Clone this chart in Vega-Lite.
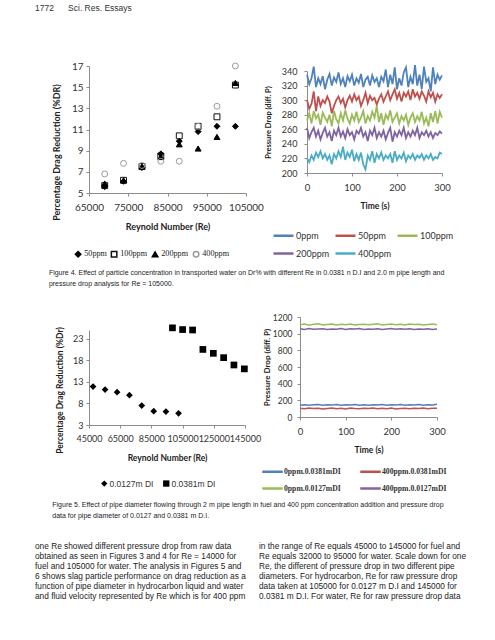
{
  "$schema": "https://vega.github.io/schema/vega-lite/v6.json",
  "background": "white",
  "padding": {"left": 35, "top": 3, "right": 0, "bottom": 0},
  "title": {"text": "1772\u00a0\u00a0\u00a0\u00a0\u00a0\u00a0Sci. Res. Essays", "anchor": "start", "font": "Liberation Sans", "fontSize": 8.5, "fontWeight": "normal", "color": "#333", "offset": 49},
  "datasets": {
    "fig4dr": [
      {"re": 69000, "dr": 5.6, "series": "50ppm"}, {"re": 73800, "dr": 6.1, "series": "50ppm"}, {"re": 78500, "dr": 7.4, "series": "50ppm"}, {"re": 83300, "dr": 8.7, "series": "50ppm"}, {"re": 88000, "dr": 9.9, "series": "50ppm"}, {"re": 92800, "dr": 10.8, "series": "50ppm"}, {"re": 97600, "dr": 11.3, "series": "50ppm"}, {"re": 102300, "dr": 11.3, "series": "50ppm"},
      {"re": 69000, "dr": 5.7, "series": "100ppm"}, {"re": 73800, "dr": 6.2, "series": "100ppm"}, {"re": 78500, "dr": 7.5, "series": "100ppm"}, {"re": 83300, "dr": 8.5, "series": "100ppm"}, {"re": 88000, "dr": 10.4, "series": "100ppm"}, {"re": 92800, "dr": 11.3, "series": "100ppm"}, {"re": 97600, "dr": 12.2, "series": "100ppm"}, {"re": 102300, "dr": 15.2, "series": "100ppm"},
      {"re": 69000, "dr": 5.9, "series": "200ppm"}, {"re": 73800, "dr": 6.2, "series": "200ppm"}, {"re": 78500, "dr": 7.5, "series": "200ppm"}, {"re": 83300, "dr": 8.4, "series": "200ppm"}, {"re": 88000, "dr": 9.6, "series": "200ppm"}, {"re": 92800, "dr": 9.2, "series": "200ppm"}, {"re": 97600, "dr": 10.3, "series": "200ppm"}, {"re": 102300, "dr": 15.4, "series": "200ppm"},
      {"re": 69000, "dr": 6.8, "series": "400ppm"}, {"re": 73800, "dr": 7.8, "series": "400ppm"}, {"re": 78500, "dr": 7.6, "series": "400ppm"}, {"re": 83300, "dr": 8.0, "series": "400ppm"}, {"re": 88000, "dr": 8.0, "series": "400ppm"}, {"re": 92800, "dr": 11.3, "series": "400ppm"}, {"re": 97600, "dr": 13.2, "series": "400ppm"}, {"re": 102300, "dr": 17.0, "series": "400ppm"}
    ],
    "fig4dp": [
      {"t": 0, "0ppm": 335, "50ppm": 300, "100ppm": 272, "200ppm": 262, "400ppm": 220},
      {"t": 5, "0ppm": 322, "50ppm": 288, "100ppm": 282, "200ppm": 248, "400ppm": 215},
      {"t": 10, "0ppm": 330, "50ppm": 295, "100ppm": 268, "200ppm": 256, "400ppm": 224},
      {"t": 15, "0ppm": 346, "50ppm": 312, "100ppm": 285, "200ppm": 262, "400ppm": 218},
      {"t": 20, "0ppm": 318, "50ppm": 285, "100ppm": 275, "200ppm": 250, "400ppm": 228},
      {"t": 25, "0ppm": 330, "50ppm": 305, "100ppm": 280, "200ppm": 258, "400ppm": 222},
      {"t": 30, "0ppm": 322, "50ppm": 292, "100ppm": 266, "200ppm": 246, "400ppm": 230},
      {"t": 35, "0ppm": 333, "50ppm": 300, "100ppm": 283, "200ppm": 255, "400ppm": 220},
      {"t": 40, "0ppm": 315, "50ppm": 296, "100ppm": 276, "200ppm": 262, "400ppm": 226},
      {"t": 45, "0ppm": 328, "50ppm": 305, "100ppm": 270, "200ppm": 250, "400ppm": 218},
      {"t": 50, "0ppm": 336, "50ppm": 298, "100ppm": 280, "200ppm": 256, "400ppm": 224},
      {"t": 55, "0ppm": 320, "50ppm": 282, "100ppm": 264, "200ppm": 244, "400ppm": 212},
      {"t": 60, "0ppm": 331, "50ppm": 292, "100ppm": 285, "200ppm": 258, "400ppm": 226},
      {"t": 65, "0ppm": 325, "50ppm": 300, "100ppm": 274, "200ppm": 252, "400ppm": 220},
      {"t": 70, "0ppm": 338, "50ppm": 305, "100ppm": 268, "200ppm": 262, "400ppm": 230},
      {"t": 75, "0ppm": 322, "50ppm": 296, "100ppm": 282, "200ppm": 250, "400ppm": 222},
      {"t": 80, "0ppm": 330, "50ppm": 302, "100ppm": 272, "200ppm": 257, "400ppm": 236},
      {"t": 85, "0ppm": 318, "50ppm": 290, "100ppm": 286, "200ppm": 248, "400ppm": 218},
      {"t": 90, "0ppm": 333, "50ppm": 300, "100ppm": 275, "200ppm": 260, "400ppm": 228},
      {"t": 95, "0ppm": 326, "50ppm": 306, "100ppm": 268, "200ppm": 252, "400ppm": 222},
      {"t": 100, "0ppm": 335, "50ppm": 298, "100ppm": 280, "200ppm": 256, "400ppm": 232},
      {"t": 105, "0ppm": 320, "50ppm": 308, "100ppm": 272, "200ppm": 246, "400ppm": 216},
      {"t": 110, "0ppm": 330, "50ppm": 300, "100ppm": 284, "200ppm": 258, "400ppm": 226},
      {"t": 115, "0ppm": 324, "50ppm": 305, "100ppm": 270, "200ppm": 254, "400ppm": 218},
      {"t": 120, "0ppm": 336, "50ppm": 292, "100ppm": 276, "200ppm": 262, "400ppm": 228},
      {"t": 125, "0ppm": 318, "50ppm": 300, "100ppm": 285, "200ppm": 250, "400ppm": 212},
      {"t": 130, "0ppm": 328, "50ppm": 310, "100ppm": 268, "200ppm": 256, "400ppm": 205},
      {"t": 135, "0ppm": 332, "50ppm": 296, "100ppm": 278, "200ppm": 244, "400ppm": 224},
      {"t": 140, "0ppm": 320, "50ppm": 306, "100ppm": 272, "200ppm": 258, "400ppm": 218},
      {"t": 145, "0ppm": 334, "50ppm": 300, "100ppm": 284, "200ppm": 252, "400ppm": 230},
      {"t": 150, "0ppm": 325, "50ppm": 303, "100ppm": 276, "200ppm": 262, "400ppm": 214},
      {"t": 155, "0ppm": 330, "50ppm": 294, "100ppm": 292, "200ppm": 248, "400ppm": 226},
      {"t": 160, "0ppm": 318, "50ppm": 302, "100ppm": 270, "200ppm": 256, "400ppm": 220},
      {"t": 165, "0ppm": 332, "50ppm": 308, "100ppm": 282, "200ppm": 250, "400ppm": 228},
      {"t": 170, "0ppm": 326, "50ppm": 298, "100ppm": 266, "200ppm": 258, "400ppm": 218},
      {"t": 175, "0ppm": 342, "50ppm": 305, "100ppm": 280, "200ppm": 246, "400ppm": 224},
      {"t": 180, "0ppm": 318, "50ppm": 312, "100ppm": 274, "200ppm": 255, "400ppm": 220},
      {"t": 185, "0ppm": 335, "50ppm": 300, "100ppm": 286, "200ppm": 262, "400ppm": 226},
      {"t": 190, "0ppm": 322, "50ppm": 308, "100ppm": 270, "200ppm": 243, "400ppm": 214},
      {"t": 195, "0ppm": 345, "50ppm": 315, "100ppm": 276, "200ppm": 256, "400ppm": 230},
      {"t": 200, "0ppm": 315, "50ppm": 302, "100ppm": 282, "200ppm": 250, "400ppm": 218},
      {"t": 205, "0ppm": 330, "50ppm": 310, "100ppm": 268, "200ppm": 258, "400ppm": 224},
      {"t": 210, "0ppm": 320, "50ppm": 298, "100ppm": 278, "200ppm": 252, "400ppm": 220},
      {"t": 215, "0ppm": 338, "50ppm": 310, "100ppm": 272, "200ppm": 262, "400ppm": 228},
      {"t": 220, "0ppm": 345, "50ppm": 305, "100ppm": 280, "200ppm": 248, "400ppm": 216},
      {"t": 225, "0ppm": 318, "50ppm": 312, "100ppm": 266, "200ppm": 256, "400ppm": 224},
      {"t": 230, "0ppm": 332, "50ppm": 300, "100ppm": 276, "200ppm": 250, "400ppm": 220},
      {"t": 235, "0ppm": 322, "50ppm": 315, "100ppm": 282, "200ppm": 258, "400ppm": 226},
      {"t": 240, "0ppm": 348, "50ppm": 305, "100ppm": 270, "200ppm": 252, "400ppm": 218},
      {"t": 245, "0ppm": 320, "50ppm": 310, "100ppm": 278, "200ppm": 262, "400ppm": 224},
      {"t": 250, "0ppm": 335, "50ppm": 302, "100ppm": 272, "200ppm": 248, "400ppm": 221},
      {"t": 255, "0ppm": 315, "50ppm": 312, "100ppm": 284, "200ppm": 256, "400ppm": 226},
      {"t": 260, "0ppm": 346, "50ppm": 306, "100ppm": 268, "200ppm": 252, "400ppm": 218},
      {"t": 265, "0ppm": 325, "50ppm": 298, "100ppm": 276, "200ppm": 258, "400ppm": 224},
      {"t": 270, "0ppm": 330, "50ppm": 312, "100ppm": 264, "200ppm": 250, "400ppm": 220},
      {"t": 275, "0ppm": 312, "50ppm": 304, "100ppm": 282, "200ppm": 256, "400ppm": 226},
      {"t": 280, "0ppm": 345, "50ppm": 310, "100ppm": 270, "200ppm": 248, "400ppm": 218},
      {"t": 285, "0ppm": 322, "50ppm": 298, "100ppm": 285, "200ppm": 255, "400ppm": 222},
      {"t": 290, "0ppm": 335, "50ppm": 308, "100ppm": 268, "200ppm": 252, "400ppm": 220},
      {"t": 295, "0ppm": 328, "50ppm": 303, "100ppm": 284, "200ppm": 257, "400ppm": 228},
      {"t": 300, "0ppm": 334, "50ppm": 308, "100ppm": 276, "200ppm": 254, "400ppm": 226}
    ],
    "fig5dr": [
      {"re": 47600, "dr": 11.9, "pipe": "0.0127m DI"}, {"re": 55300, "dr": 11.2, "pipe": "0.0127m DI"}, {"re": 63000, "dr": 10.6, "pipe": "0.0127m DI"}, {"re": 70900, "dr": 9.9, "pipe": "0.0127m DI"}, {"re": 78800, "dr": 7.5, "pipe": "0.0127m DI"}, {"re": 86500, "dr": 6.2, "pipe": "0.0127m DI"}, {"re": 94300, "dr": 6.1, "pipe": "0.0127m DI"}, {"re": 102400, "dr": 5.7, "pipe": "0.0127m DI"},
      {"re": 98500, "dr": 25.5, "pipe": "0.0381m DI"}, {"re": 105000, "dr": 25.1, "pipe": "0.0381m DI"}, {"re": 111400, "dr": 25.0, "pipe": "0.0381m DI"}, {"re": 118000, "dr": 20.5, "pipe": "0.0381m DI"}, {"re": 124700, "dr": 19.6, "pipe": "0.0381m DI"}, {"re": 131300, "dr": 18.6, "pipe": "0.0381m DI"}, {"re": 137900, "dr": 16.9, "pipe": "0.0381m DI"}, {"re": 144600, "dr": 16.0, "pipe": "0.0381m DI"}
    ],
    "fig5dp": [
      {"t": 0, "s": "0ppm.0.0381mDI", "dp": 142}, {"t": 10, "s": "0ppm.0.0381mDI", "dp": 148}, {"t": 20, "s": "0ppm.0.0381mDI", "dp": 140}, {"t": 30, "s": "0ppm.0.0381mDI", "dp": 146}, {"t": 40, "s": "0ppm.0.0381mDI", "dp": 150}, {"t": 50, "s": "0ppm.0.0381mDI", "dp": 141}, {"t": 60, "s": "0ppm.0.0381mDI", "dp": 147}, {"t": 70, "s": "0ppm.0.0381mDI", "dp": 143}, {"t": 80, "s": "0ppm.0.0381mDI", "dp": 149}, {"t": 90, "s": "0ppm.0.0381mDI", "dp": 140}, {"t": 100, "s": "0ppm.0.0381mDI", "dp": 146}, {"t": 110, "s": "0ppm.0.0381mDI", "dp": 144}, {"t": 120, "s": "0ppm.0.0381mDI", "dp": 150}, {"t": 130, "s": "0ppm.0.0381mDI", "dp": 142}, {"t": 140, "s": "0ppm.0.0381mDI", "dp": 148}, {"t": 150, "s": "0ppm.0.0381mDI", "dp": 141}, {"t": 160, "s": "0ppm.0.0381mDI", "dp": 147}, {"t": 170, "s": "0ppm.0.0381mDI", "dp": 145}, {"t": 180, "s": "0ppm.0.0381mDI", "dp": 150}, {"t": 190, "s": "0ppm.0.0381mDI", "dp": 140}, {"t": 200, "s": "0ppm.0.0381mDI", "dp": 146}, {"t": 210, "s": "0ppm.0.0381mDI", "dp": 143}, {"t": 220, "s": "0ppm.0.0381mDI", "dp": 149}, {"t": 230, "s": "0ppm.0.0381mDI", "dp": 141}, {"t": 240, "s": "0ppm.0.0381mDI", "dp": 147}, {"t": 250, "s": "0ppm.0.0381mDI", "dp": 144}, {"t": 260, "s": "0ppm.0.0381mDI", "dp": 150}, {"t": 270, "s": "0ppm.0.0381mDI", "dp": 142}, {"t": 280, "s": "0ppm.0.0381mDI", "dp": 148}, {"t": 290, "s": "0ppm.0.0381mDI", "dp": 145}, {"t": 300, "s": "0ppm.0.0381mDI", "dp": 152},
      {"t": 0, "s": "400ppm.0.0381mDI", "dp": 104}, {"t": 10, "s": "400ppm.0.0381mDI", "dp": 98}, {"t": 20, "s": "400ppm.0.0381mDI", "dp": 108}, {"t": 30, "s": "400ppm.0.0381mDI", "dp": 101}, {"t": 40, "s": "400ppm.0.0381mDI", "dp": 106}, {"t": 50, "s": "400ppm.0.0381mDI", "dp": 96}, {"t": 60, "s": "400ppm.0.0381mDI", "dp": 103}, {"t": 70, "s": "400ppm.0.0381mDI", "dp": 109}, {"t": 80, "s": "400ppm.0.0381mDI", "dp": 100}, {"t": 90, "s": "400ppm.0.0381mDI", "dp": 105}, {"t": 100, "s": "400ppm.0.0381mDI", "dp": 97}, {"t": 110, "s": "400ppm.0.0381mDI", "dp": 107}, {"t": 120, "s": "400ppm.0.0381mDI", "dp": 102}, {"t": 130, "s": "400ppm.0.0381mDI", "dp": 99}, {"t": 140, "s": "400ppm.0.0381mDI", "dp": 106}, {"t": 150, "s": "400ppm.0.0381mDI", "dp": 101}, {"t": 160, "s": "400ppm.0.0381mDI", "dp": 108}, {"t": 170, "s": "400ppm.0.0381mDI", "dp": 98}, {"t": 180, "s": "400ppm.0.0381mDI", "dp": 104}, {"t": 190, "s": "400ppm.0.0381mDI", "dp": 100}, {"t": 200, "s": "400ppm.0.0381mDI", "dp": 107}, {"t": 210, "s": "400ppm.0.0381mDI", "dp": 97}, {"t": 220, "s": "400ppm.0.0381mDI", "dp": 103}, {"t": 230, "s": "400ppm.0.0381mDI", "dp": 106}, {"t": 240, "s": "400ppm.0.0381mDI", "dp": 99}, {"t": 250, "s": "400ppm.0.0381mDI", "dp": 105}, {"t": 260, "s": "400ppm.0.0381mDI", "dp": 101}, {"t": 270, "s": "400ppm.0.0381mDI", "dp": 108}, {"t": 280, "s": "400ppm.0.0381mDI", "dp": 98}, {"t": 290, "s": "400ppm.0.0381mDI", "dp": 104}, {"t": 300, "s": "400ppm.0.0381mDI", "dp": 106},
      {"t": 0, "s": "0ppm.0.0127mDI", "dp": 1108}, {"t": 10, "s": "0ppm.0.0127mDI", "dp": 1115}, {"t": 20, "s": "0ppm.0.0127mDI", "dp": 1102}, {"t": 30, "s": "0ppm.0.0127mDI", "dp": 1112}, {"t": 40, "s": "0ppm.0.0127mDI", "dp": 1118}, {"t": 50, "s": "0ppm.0.0127mDI", "dp": 1105}, {"t": 60, "s": "0ppm.0.0127mDI", "dp": 1110}, {"t": 70, "s": "0ppm.0.0127mDI", "dp": 1116}, {"t": 80, "s": "0ppm.0.0127mDI", "dp": 1104}, {"t": 90, "s": "0ppm.0.0127mDI", "dp": 1112}, {"t": 100, "s": "0ppm.0.0127mDI", "dp": 1108}, {"t": 110, "s": "0ppm.0.0127mDI", "dp": 1117}, {"t": 120, "s": "0ppm.0.0127mDI", "dp": 1103}, {"t": 130, "s": "0ppm.0.0127mDI", "dp": 1111}, {"t": 140, "s": "0ppm.0.0127mDI", "dp": 1114}, {"t": 150, "s": "0ppm.0.0127mDI", "dp": 1106}, {"t": 160, "s": "0ppm.0.0127mDI", "dp": 1112}, {"t": 170, "s": "0ppm.0.0127mDI", "dp": 1118}, {"t": 180, "s": "0ppm.0.0127mDI", "dp": 1104}, {"t": 190, "s": "0ppm.0.0127mDI", "dp": 1110}, {"t": 200, "s": "0ppm.0.0127mDI", "dp": 1115}, {"t": 210, "s": "0ppm.0.0127mDI", "dp": 1107}, {"t": 220, "s": "0ppm.0.0127mDI", "dp": 1112}, {"t": 230, "s": "0ppm.0.0127mDI", "dp": 1103}, {"t": 240, "s": "0ppm.0.0127mDI", "dp": 1116}, {"t": 250, "s": "0ppm.0.0127mDI", "dp": 1109}, {"t": 260, "s": "0ppm.0.0127mDI", "dp": 1113}, {"t": 270, "s": "0ppm.0.0127mDI", "dp": 1105}, {"t": 280, "s": "0ppm.0.0127mDI", "dp": 1111}, {"t": 290, "s": "0ppm.0.0127mDI", "dp": 1117}, {"t": 300, "s": "0ppm.0.0127mDI", "dp": 1108},
      {"t": 0, "s": "400ppm.0.0127mDI", "dp": 1058}, {"t": 10, "s": "400ppm.0.0127mDI", "dp": 1050}, {"t": 20, "s": "400ppm.0.0127mDI", "dp": 1062}, {"t": 30, "s": "400ppm.0.0127mDI", "dp": 1052}, {"t": 40, "s": "400ppm.0.0127mDI", "dp": 1056}, {"t": 50, "s": "400ppm.0.0127mDI", "dp": 1060}, {"t": 60, "s": "400ppm.0.0127mDI", "dp": 1049}, {"t": 70, "s": "400ppm.0.0127mDI", "dp": 1057}, {"t": 80, "s": "400ppm.0.0127mDI", "dp": 1053}, {"t": 90, "s": "400ppm.0.0127mDI", "dp": 1061}, {"t": 100, "s": "400ppm.0.0127mDI", "dp": 1051}, {"t": 110, "s": "400ppm.0.0127mDI", "dp": 1058}, {"t": 120, "s": "400ppm.0.0127mDI", "dp": 1055}, {"t": 130, "s": "400ppm.0.0127mDI", "dp": 1062}, {"t": 140, "s": "400ppm.0.0127mDI", "dp": 1050}, {"t": 150, "s": "400ppm.0.0127mDI", "dp": 1057}, {"t": 160, "s": "400ppm.0.0127mDI", "dp": 1053}, {"t": 170, "s": "400ppm.0.0127mDI", "dp": 1060}, {"t": 180, "s": "400ppm.0.0127mDI", "dp": 1049}, {"t": 190, "s": "400ppm.0.0127mDI", "dp": 1056}, {"t": 200, "s": "400ppm.0.0127mDI", "dp": 1061}, {"t": 210, "s": "400ppm.0.0127mDI", "dp": 1052}, {"t": 220, "s": "400ppm.0.0127mDI", "dp": 1058}, {"t": 230, "s": "400ppm.0.0127mDI", "dp": 1054}, {"t": 240, "s": "400ppm.0.0127mDI", "dp": 1060}, {"t": 250, "s": "400ppm.0.0127mDI", "dp": 1050}, {"t": 260, "s": "400ppm.0.0127mDI", "dp": 1057}, {"t": 270, "s": "400ppm.0.0127mDI", "dp": 1053}, {"t": 280, "s": "400ppm.0.0127mDI", "dp": 1059}, {"t": 290, "s": "400ppm.0.0127mDI", "dp": 1051}, {"t": 300, "s": "400ppm.0.0127mDI", "dp": 1055}
    ],
    "body": [
      {"col": "left", "line": 1, "text": "one Re showed different pressure drop from raw data"},
      {"col": "left", "line": 2, "text": "obtained as seen in Figures 3 and 4 for Re = 14000 for"},
      {"col": "left", "line": 3, "text": "fuel and 105000 for water. The analysis in Figures 5 and"},
      {"col": "left", "line": 4, "text": "6 shows slag particle performance on drag reduction as a"},
      {"col": "left", "line": 5, "text": "function of pipe diameter in hydrocarbon liquid and water"},
      {"col": "left", "line": 6, "text": "and fluid velocity represented by Re which is for 400 ppm"},
      {"col": "right", "line": 1, "text": "in the range of Re equals 45000 to 145000 for fuel and"},
      {"col": "right", "line": 2, "text": "Re equals 32000 to 95000 for water. Scale down for one"},
      {"col": "right", "line": 3, "text": "Re, the different of pressure drop in two different pipe"},
      {"col": "right", "line": 4, "text": "diameters. For hydrocarbon, Re for raw pressure drop"},
      {"col": "right", "line": 5, "text": "data taken at 105000 for 0.0127 m D.I and 145000 for"},
      {"col": "right", "line": 6, "text": "0.0381 m D.I. For water, Re for raw pressure drop data"}
    ]
  },
  "resolve": {"scale": {"color": "independent", "shape": "independent", "fill": "independent", "stroke": "independent"}, "legend": {"color": "independent", "shape": "independent", "fill": "independent", "stroke": "independent"}},
  "spacing": 26,
  "vconcat": [
    {
      "spacing": 0,
      "resolve": {"scale": {"color": "independent", "shape": "independent", "fill": "independent", "stroke": "independent"}, "legend": {"color": "independent", "shape": "independent", "fill": "independent", "stroke": "independent"}},
      "title": {"text": ["Figure 4. Effect of particle concentration in transported water on Dr% with different Re in 0.0381 n D.I and 2.0 m pipe length and", "pressure drop analysis for Re = 105000."], "orient": "bottom", "anchor": "start", "offset": 9, "dx": -3.5, "font": "Liberation Sans", "fontSize": 7, "fontWeight": "normal", "color": "#222", "lineHeight": 11},
      "hconcat": [
        {
          "width": 157, "height": 127,
          "data": {"name": "fig4dr"},
          "mark": {"type": "point", "size": 35, "strokeWidth": 1, "opacity": 1},
          "encoding": {
            "x": {"field": "re", "type": "quantitative", "scale": {"domain": [65000, 105000], "nice": false, "zero": false},
                  "axis": {"values": [65000, 75000, 85000, 95000, 105000], "format": "d", "title": "Reynold Number (Re)", "labelFontSize": 10, "titleFontSize": 9, "labelPadding": 6, "titlePadding": 10, "labelFlush": false}},
            "y": {"field": "dr", "type": "quantitative", "scale": {"domain": [5, 17], "nice": false, "zero": false},
                  "axis": {"values": [5, 7, 9, 11, 13, 15, 17], "title": "Percentage Drag Reduction (%DR)", "titleY": 86, "labelFontSize": 10, "titleFontSize": 9, "labelPadding": 3, "titlePadding": 10, "labelFlush": false}},
            "shape": {"field": "series", "type": "nominal", "title": null, "scale": {"domain": ["50ppm", "100ppm", "200ppm", "400ppm"], "range": ["diamond", "square", "triangle-up", "circle"]},
                      "legend": {"orient": "none", "legendX": -15, "legendY": 184, "direction": "horizontal", "columns": 4, "labelFont": "Liberation Serif", "labelFontSize": 8.2, "labelColor": "#222", "symbolSize": 30, "columnPadding": 1, "labelOffset": 2, "padding": 0}},
            "fill": {"field": "series", "type": "nominal", "title": null, "scale": {"domain": ["50ppm", "100ppm", "200ppm", "400ppm"], "range": ["#000000", "transparent", "#000000", "transparent"]}},
            "stroke": {"field": "series", "type": "nominal", "title": null, "scale": {"domain": ["50ppm", "100ppm", "200ppm", "400ppm"], "range": ["#000000", "#111111", "#000000", "#9a9a9a"]}}
          }
        },
        {
          "width": 135, "height": 107,
          "data": {"name": "fig4dp"},
          "transform": [{"fold": ["0ppm", "50ppm", "100ppm", "200ppm", "400ppm"], "as": ["series", "dp"]}],
          "mark": {"type": "line", "strokeWidth": 1.8, "clip": false},
          "encoding": {
            "x": {"field": "t", "type": "quantitative", "scale": {"domain": [0, 300], "nice": false},
                  "axis": {"values": [0, 100, 200, 300], "title": "Time (s)", "labelFontSize": 9.5, "titleFontSize": 8.5, "labelPadding": 6, "titlePadding": 10, "labelFlush": false}},
            "y": {"field": "dp", "type": "quantitative", "scale": {"domain": [200, 340], "nice": false, "zero": false, "range": [107, 5]},
                  "axis": {"values": [200, 220, 240, 260, 280, 300, 320, 340], "title": "Pressure Drop (diff. P)", "labelFontSize": 9, "titleFontSize": 7.5, "labelPadding": 7, "titlePadding": 9, "labelFlush": false}},
            "color": {"field": "series", "type": "nominal", "title": null, "scale": {"domain": ["0ppm", "50ppm", "100ppm", "200ppm", "400ppm"], "range": ["#4f81bd", "#c0504d", "#9bbb59", "#8064a2", "#4bacc6"]},
                      "legend": {"orient": "none", "legendX": -35, "legendY": 158, "direction": "horizontal", "columns": 3, "symbolType": "stroke", "symbolSize": 400, "symbolStrokeWidth": 2.5, "labelFont": "Lato", "labelFontSize": 9, "labelColor": "#333", "columnPadding": 0, "rowPadding": 1, "labelOffset": 1, "padding": 0}}
          }
        }
      ]
    },
    {
      "spacing": 23,
      "resolve": {"scale": {"color": "independent", "shape": "independent"}, "legend": {"color": "independent", "shape": "independent"}},
      "vconcat": [
        {
          "spacing": 0,
          "resolve": {"scale": {"color": "independent", "shape": "independent"}, "legend": {"color": "independent", "shape": "independent"}},
          "title": {"text": ["Figure 5. Effect of pipe diameter flowing through 2 m pipe length in fuel and 400 ppm concentration addition and pressure drop", "data for pipe diameter of 0.0127 and 0.0381 m D.I."], "orient": "bottom", "anchor": "start", "offset": 7, "dx": -3, "font": "Liberation Sans", "fontSize": 7, "fontWeight": "normal", "color": "#222", "lineHeight": 11},
          "hconcat": [
            {
              "width": 156, "height": 108,
              "data": {"name": "fig5dr"},
              "mark": {"type": "point", "filled": true, "size": 45, "opacity": 1, "color": "#000000", "clip": false},
              "encoding": {
                "x": {"field": "re", "type": "quantitative", "scale": {"domain": [45000, 145000], "nice": false, "zero": false},
                      "axis": {"values": [45000, 65000, 85000, 105000, 125000, 145000], "format": "d", "title": "Reynold Number (Re)", "labelFontSize": 9, "titleFontSize": 8.5, "labelPadding": 6, "titlePadding": 10, "labelFlush": false, "labelOverlap": false}},
                "y": {"field": "dr", "type": "quantitative", "scale": {"domain": [3, 25], "nice": false, "zero": false, "range": [108, 13]},
                      "axis": {"values": [3, 8, 13, 18, 23], "title": "Percentage Drag Reduction (%Dr)", "titleY": 73, "labelFontSize": 9, "titleFontSize": 8.5, "labelPadding": 3, "titlePadding": 8.3, "labelFlush": false}},
                "shape": {"field": "pipe", "type": "nominal", "title": null, "scale": {"domain": ["0.0127m DI", "0.0381m DI"], "range": ["diamond", "square"]},
                          "legend": {"orient": "none", "legendX": 11, "legendY": 162, "direction": "horizontal", "columns": 2, "labelFont": "Liberation Sans", "labelFontSize": 8.5, "labelColor": "#333", "symbolSize": 40, "symbolFillColor": "#000000", "symbolStrokeColor": "#000000", "columnPadding": 6, "labelOffset": 1, "padding": 0}}
              }
            },
            {
              "width": 137, "height": 100,
              "data": {"name": "fig5dp"},
              "mark": {"type": "line", "strokeWidth": 1.5},
              "encoding": {
                "x": {"field": "t", "type": "quantitative", "scale": {"domain": [0, 300], "nice": false},
                      "axis": {"values": [0, 100, 200, 300], "title": "Time (s)", "labelFontSize": 9.5, "titleFontSize": 8.5, "labelPadding": 6, "titlePadding": 10, "labelFlush": false}},
                "y": {"field": "dp", "type": "quantitative", "scale": {"domain": [0, 1200], "nice": false},
                      "axis": {"values": [0, 200, 400, 600, 800, 1000, 1200], "format": "d", "title": "Pressure Drop (diff. P)", "labelFontSize": 8.5, "titleFontSize": 8, "labelPadding": 5, "titlePadding": 1, "labelFlush": false}},
                "color": {"field": "s", "type": "nominal", "title": null, "scale": {"domain": ["0ppm.0.0381mDI", "400ppm.0.0381mDI", "0ppm.0.0127mDI", "400ppm.0.0127mDI"], "range": ["#4f81bd", "#c0504d", "#9bbb59", "#8064a2"]},
                          "legend": {"orient": "none", "legendX": -39, "legendY": 143, "direction": "horizontal", "columns": 2, "symbolType": "stroke", "symbolSize": 420, "symbolStrokeWidth": 2.5, "labelFont": "Liberation Serif", "labelFontWeight": "bold", "labelFontSize": 7.7, "labelColor": "#333", "columnPadding": 14, "rowPadding": -5, "labelOffset": 0, "padding": 0}}
              }
            }
          ]
        },
        {
          "width": 448, "height": 60,
          "data": {"name": "body"},
          "mark": {"type": "text", "align": "left", "baseline": "middle", "dx": -54, "font": "Liberation Sans", "fontSize": 8.3, "color": "#222"},
          "encoding": {
            "x": {"field": "col", "type": "nominal", "bandPosition": 0, "scale": {"type": "band", "paddingInner": 0, "paddingOuter": 0}, "axis": null},
            "y": {"field": "line", "type": "ordinal", "axis": null},
            "text": {"field": "text"}
          }
        }
      ]
    }
  ],
  "config": {
    "view": {"stroke": null},
    "axis": {"grid": false, "domainColor": "#8c8c8c", "tickColor": "#8c8c8c", "tickSize": 3, "labelColor": "#333", "labelFont": "Lato", "titleFont": "Lato", "titleFontWeight": "bold", "titleColor": "#222"},
    "legend": {"padding": 0}
  }
}
